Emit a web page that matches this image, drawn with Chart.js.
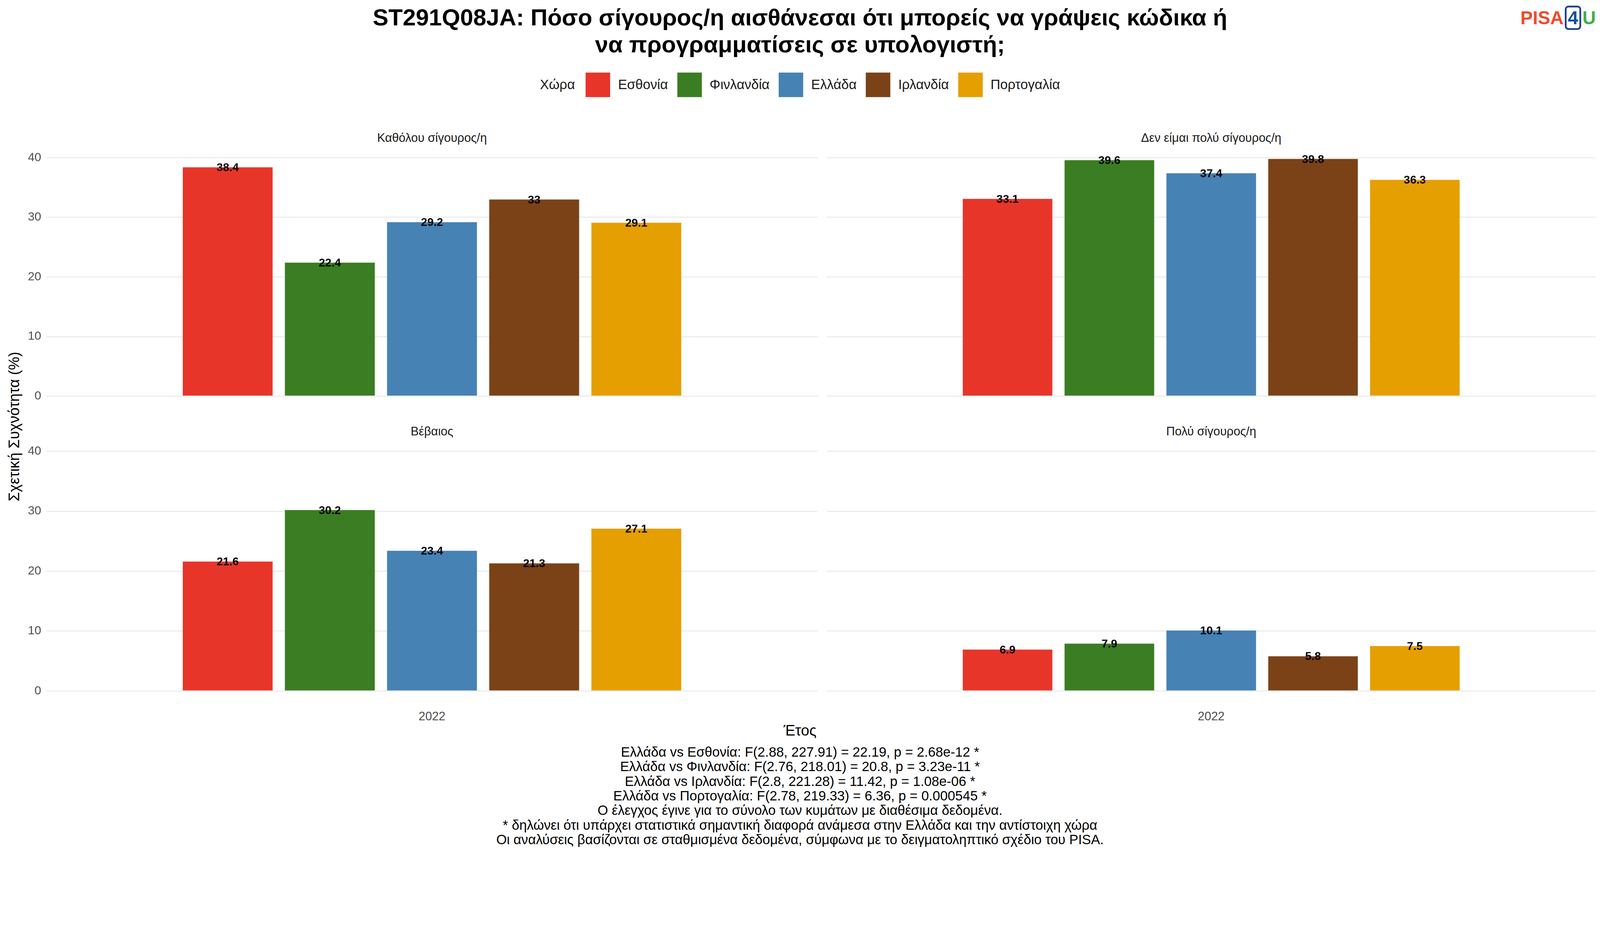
<!DOCTYPE html>
<html><head><meta charset="utf-8">
<script src="https://cdn.jsdelivr.net/npm/chart.js@4"></script>
<style>
html,body{margin:0;padding:0;background:#fff;overflow:hidden}
#root{width:4500px;height:2400px;position:relative;transform-origin:0 0;font-family:"Liberation Sans",Arial,sans-serif;background:#fff}
.abs{position:absolute}
canvas{position:absolute}
#title{left:0;width:4500px;top:10px;text-align:center;font-weight:bold;font-size:66px;line-height:76px;color:#000}
#legend{left:0;width:4500px;top:204px;display:flex;justify-content:center;align-items:center;font-size:38px;color:#1a1a1a}
#legend .sw{width:69px;height:69px;margin:0 22px 0 26px}
.strip{font-size:34px;color:#1a1a1a;text-align:center}
.xt{font-size:34px;color:#4d4d4d;text-align:center;width:200px}
#foot{left:0;width:4500px;top:2094px;text-align:center;font-size:38px;line-height:41px;color:#000}
#logo{right:12px;top:20px;font-size:52px;font-weight:bold}
</style></head><body>
<div id="root">
<div id="title" class="abs">ST291Q08JA: Πόσο σίγουρος/η αισθάνεσαι ότι μπορείς να γράψεις κώδικα ή<br>να προγραμματίσεις σε υπολογιστή;</div>
<div id="logo" class="abs"><span style="color:#EE4B2B">PISA</span><span style="color:#0B4F9C;border:5px solid #1F3F8F;border-radius:10px;padding:0 4px;margin:0 3px">4</span><span style="color:#3FAE49">U</span></div>
<div id="legend" class="abs"></div>
<div class="abs" style="left:-260px;top:1175px;width:600px;text-align:center;transform:rotate(-90deg);font-size:42px;color:#000;white-space:nowrap">Σχετική Συχνότητα (%)</div>
<div class="abs" style="left:0;width:4500px;top:2030px;text-align:center;font-size:42px;color:#000">Έτος</div>
<div id="foot" class="abs"></div>
</div>
<script>
const countries = ['Εσθονία', 'Φινλανδία', 'Ελλάδα', 'Ιρλανδία', 'Πορτογαλία'];
const colors = ['#E8352A', '#3A7D22', '#4682B4', '#7B4217', '#E69F00'];
const years = ['2022'];
const panels = ['Καθόλου σίγουρος/η', 'Δεν είμαι πολύ σίγουρος/η', 'Βέβαιος', 'Πολύ σίγουρος/η'];
const values = [
    [38.4, 22.4, 29.2, 33, 29.1],
    [33.1, 39.6, 37.4, 39.8, 36.3],
    [21.6, 30.2, 23.4, 21.3, 27.1],
    [6.9, 7.9, 10.1, 5.8, 7.5]
];
const yTicks = [0, 10, 20, 30, 40];
const notes = [
    'Ελλάδα vs Εσθονία: F(2.88, 227.91) = 22.19, p = 2.68e-12 *',
    'Ελλάδα vs Φινλανδία: F(2.76, 218.01) = 20.8, p = 3.23e-11 *',
    'Ελλάδα vs Ιρλανδία: F(2.8, 221.28) = 11.42, p = 1.08e-06 *',
    'Ελλάδα vs Πορτογαλία: F(2.78, 219.33) = 6.36, p = 0.000545 *',
    'Ο έλεγχος έγινε για το σύνολο των κυμάτων με διαθέσιμα δεδομένα.',
    '* δηλώνει ότι υπάρχει στατιστικά σημαντική διαφορά ανάμεσα στην Ελλάδα και την αντίστοιχη χώρα',
    'Οι αναλύσεις βασίζονται σε σταθμισμένα δεδομένα, σύμφωνα με το δειγματοληπτικό σχέδιο του PISA.'
];

const root = document.getElementById('root');
// fit the 4500x2400 layout into whatever viewport we get
const k = Math.min(window.innerWidth / 4500, window.innerHeight / 2400);
root.style.transform = `scale(${k})`;

const lg = document.getElementById('legend');
lg.innerHTML = '<span style="margin-right:4px">Χώρα</span>' + countries.map((c, i) =>
    `<span class="sw" style="background:${colors[i]}"></span><span>${c}</span>`).join('');
document.getElementById('foot').innerHTML = notes.join('<br>');

const labelPlugin = {
    id: 'vals',
    afterDatasetsDraw(chart) {
        const ctx = chart.ctx;
        ctx.save();
        ctx.font = 'bold 32px "Liberation Sans", Arial';
        ctx.fillStyle = '#000';
        ctx.textAlign = 'center';
        ctx.textBaseline = 'middle';
        chart.data.datasets.forEach((ds, i) => {
            chart.getDatasetMeta(i).data.forEach((bar, j) => {
                ctx.fillText(String(ds.data[j]), bar.x, bar.y + 2);
            });
        });
        ctx.restore();
    }
};

// panel geometry: [left, top, width, height, showY]
const geo = [
    [30, 410, 2270, 737, true],
    [2325, 410, 2163, 737, false],
    [30, 1235, 2270, 741, true],
    [2325, 1235, 2163, 741, false]
];

panels.forEach((name, p) => {
    const [l, t, w, h, showY] = geo[p];
    const cv = document.createElement('canvas');
    cv.style.left = l + 'px'; cv.style.top = t + 'px';
    cv.width = w; cv.height = h;
    root.appendChild(cv);
    const yw = showY ? 100 : 0;
    const s = document.createElement('div');
    s.className = 'abs strip';
    s.style.left = (l + yw) + 'px'; s.style.width = (w - yw) + 'px';
    s.style.top = (t - 42) + 'px';
    s.textContent = name;
    root.appendChild(s);
    if (p >= 2) {
        const x = document.createElement('div');
        x.className = 'abs xt';
        x.style.left = (l + yw + (w - yw) / 2 - 100) + 'px';
        x.style.top = '1994px';
        x.textContent = years[0];
        root.appendChild(x);
    }
    new Chart(cv, {
        type: 'bar',
        data: {
            labels: years,
            datasets: countries.map((c, i) => ({
                label: c, data: [values[p][i]], backgroundColor: colors[i]
            }))
        },
        options: {
            responsive: false, animation: false, devicePixelRatio: 1,
            categoryPercentage: 0.662, barPercentage: 0.88,
            layout: { padding: 0 },
            plugins: { legend: { display: false }, tooltip: { enabled: false } },
            scales: {
                x: { display: false },
                y: {
                    min: -2, max: 42,
                    afterBuildTicks: a => { a.ticks = yTicks.map(v => ({ value: v })); },
                    afterFit: a => { a.width = yw; a.paddingTop = 0; a.paddingBottom = 0; },
                    border: { display: false },
                    grid: { color: '#EBEBEB', lineWidth: 3, drawTicks: false },
                    ticks: { display: showY, color: '#4d4d4d', padding: 14, font: { size: 34, family: '"Liberation Sans", Arial' } }
                }
            }
        },
        plugins: [labelPlugin]
    });
});
</script>
</body></html>
